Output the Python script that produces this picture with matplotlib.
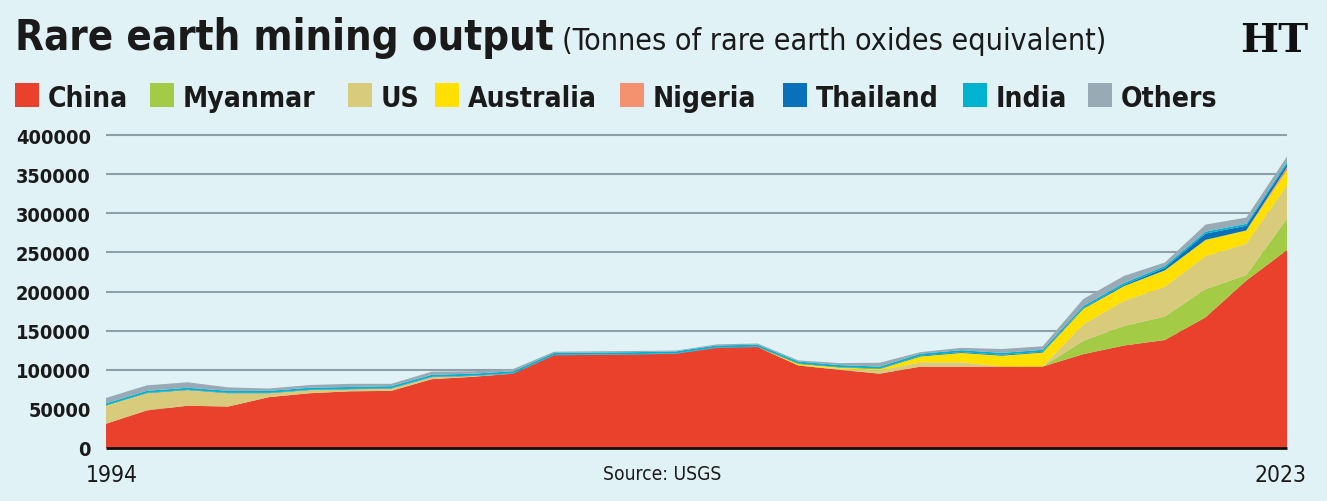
import matplotlib
matplotlib.use("Agg")
import matplotlib.pyplot as plt
from matplotlib.patches import Rectangle
from matplotlib.transforms import ScaledTranslation

# data (tonnes of REO equivalent)
years = list(range(1994, 2024))
china = [31000, 48000, 54000, 53000, 65000, 70000, 72500, 73000, 88000, 91000,
         95000, 118500, 119000, 119500, 120500, 128000, 129000, 105500, 100000, 95000,
         104000, 104000, 104000, 104000, 120000, 131000, 138000, 167000, 214000, 253000]
myanmar = [0, 0, 0, 0, 0, 0, 0, 0, 0, 0,
           0, 0, 0, 0, 0, 0, 0, 0, 0, 0,
           0, 0, 0, 0, 17000, 25000, 30000, 36000, 7000, 40000]
us = [22000, 22000, 20000, 17000, 5000, 4000, 2500, 3000, 2500, 1000,
      0, 0, 0, 0, 0, 0, 0, 0, 1500, 4000,
      5500, 5500, 0, 0, 21000, 32000, 38000, 42000, 40000, 43000]
australia = [1000, 0, 0, 0, 0, 0, 0, 0, 0, 0,
             0, 0, 0, 0, 0, 0, 0, 2000, 1500, 2000,
             7500, 12000, 14000, 18000, 20000, 19000, 21000, 21000, 17000, 19000]
nigeria = [0] * 29 + [4000]
thailand = [500, 500, 500, 500, 500, 500, 500, 500, 500, 500,
            500, 500, 500, 500, 500, 500, 500, 500, 500, 500,
            1000, 1000, 1000, 1000, 1000, 1500, 3000, 8000, 6000, 4000]
india = [2500] * 30
others = [7000, 7000, 7000, 4500, 3000, 3500, 4000, 3000, 4000, 3000,
          3000, 1500, 1500, 1500, 1000, 1500, 1500, 1500, 2500, 5000,
          2000, 3000, 5000, 4500, 9000, 9000, 4500, 9000, 8000, 7000]

names = ["China", "Myanmar", "US", "Australia", "Nigeria", "Thailand", "India", "Others"]
colors = ["#e9412b", "#a3cb45", "#d8cb7c", "#ffe000", "#f4916f", "#0a70ba", "#00b2cd", "#97aab6"]
series = [china, myanmar, us, australia, nigeria, thailand, india, others]

bg = "#e1f2f6"
ink = "#1a1a1a"
W, H = 1327, 502
cond = dict(family="DejaVu Sans", fontstretch="condensed")

fig = plt.figure(figsize=(W / 100, H / 100), dpi=100, facecolor=bg)
renderer = fig.canvas.get_renderer()


def size_for(text, width_px, **kw):
    # font size at which text is width_px wide
    t = fig.text(0, 0, text, fontsize=20, **kw)
    w = t.get_window_extent(renderer).width
    t.remove()
    return 20 * width_px / w


def px(x, y):
    return x / W, 1 - y / H


ax = fig.add_axes([106 / W, 1 - 449 / H, 1181 / W, 313 / H])
ax.set_facecolor(bg)

ax.stackplot(years, *series, colors=colors, linewidth=0)
ax.set_xlim(1994, 2023)
ax.set_ylim(0, 400000)

for v in range(50000, 400001, 50000):
    ax.axhline(v, color="#8d9fa9", lw=1.5, zorder=0.5, clip_on=False,
               solid_capstyle="butt")
ax.axhline(0, color="#111111", lw=2, zorder=5, clip_on=False, solid_capstyle="butt")

for s in ax.spines.values():
    s.set_visible(False)
ax.tick_params(length=0)

yfs = size_for("400000", 75, fontweight="bold", **cond)
ax.set_yticks(range(0, 400001, 50000))
ax.set_yticklabels([str(v) for v in range(0, 400001, 50000)],
                   fontweight="bold", fontsize=yfs, color=ink, **cond)
ax.tick_params(axis="y", pad=11)

xfs = size_for("1994", 52, **cond)
ax.set_xticks([1994, 2023])
ax.set_xticklabels(["1994", "2023"], fontsize=xfs, color=ink, **cond)
ax.tick_params(axis="x", pad=11)
# the year labels sit a little inward of the axis ends
for lab, dx in zip(ax.get_xticklabels(), [6, -7]):
    lab.set_transform(lab.get_transform() + ScaledTranslation(dx / 100, 0, fig.dpi_scale_trans))

# title and subtitle
tfs = size_for("Rare earth mining output", 540, fontweight="bold", **cond)
fig.text(*px(15, 50), "Rare earth mining output", fontweight="bold",
         fontsize=tfs, color=ink, va="baseline", **cond)
sfs = size_for("(Tonnes of rare earth oxides equivalent)", 543, **cond)
fig.text(*px(562, 50), "(Tonnes of rare earth oxides equivalent)",
         fontsize=sfs, color=ink, va="baseline", **cond)
hfs = size_for("HT", 68, family="DejaVu Serif", fontweight="bold")
fig.text(*px(1308, 52), "HT", family="DejaVu Serif", fontweight="bold",
         fontsize=hfs, color="#111111", ha="right", va="baseline")

# legend row
lfs = size_for("Thailand", 123, fontweight="bold", **cond)
sq_x = [15, 150, 348, 435, 620, 783, 963, 1088]
for x, name, c in zip(sq_x, names, colors):
    fig.patches.append(Rectangle(px(x, 108), 24 / W, 24 / H,
                                 transform=fig.transFigure, facecolor=c, edgecolor="none"))
    fig.text(*px(x + 33, 107), name, fontweight="bold",
             fontsize=lfs, color=ink, va="baseline", **cond)

srcfs = size_for("Source: USGS", 118, **cond)
fig.text(*px(662, 480), "Source: USGS", fontsize=srcfs,
         color=ink, ha="center", va="baseline", **cond)

fig.savefig("out.png", dpi=100, facecolor=bg)
